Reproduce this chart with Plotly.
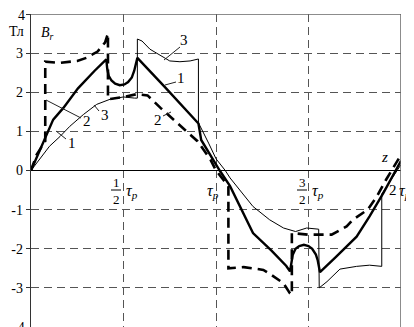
import plotly.graph_objects as go

# ---- data ----
curve1_z = [0, 0.049, 0.085, 0.12, 0.175, 0.21, 0.254, 0.344, 0.407, 0.412, 0.42, 0.435, 0.455, 0.48, 0.505,
            0.525, 0.545, 0.558, 0.568, 0.575, 0.724, 0.905, 0.92, 0.977, 1.02, 1.076, 1.157, 1.2, 1.3, 1.38,
            1.40, 1.405, 1.415, 1.43, 1.45, 1.475, 1.5, 1.52, 1.54, 1.55, 1.557, 1.562, 1.65, 1.76, 1.83,
            1.905, 2.0]
curve1_b = [0, 0.54, 0.96, 1.3, 1.6, 1.82, 2.1, 2.55, 2.84, 2.6, 2.42, 2.3, 2.22, 2.18, 2.2,
            2.26, 2.38, 2.55, 2.72, 2.88, 2.13, 1.2, 0.78, 0.32, 0.0, -0.4, -1.17, -1.6, -2.05, -2.44,
            -2.58, -2.4, -2.15, -2.0, -1.93, -1.9, -1.93, -2.0, -2.15, -2.3, -2.45, -2.6, -2.2, -1.69, -1.17,
            -0.57, 0.25]

curve2_z = [0, 0.03, 0.077, 0.077, 0.15, 0.25, 0.3, 0.36, 0.4, 0.416, 0.416, 0.5, 0.57, 0.63, 0.7, 0.75,
            0.84, 0.9, 0.97, 1.0, 1.067, 1.067, 1.15, 1.256, 1.30, 1.364, 1.40, 1.41, 1.41, 1.5, 1.59,
            1.625, 1.706, 1.74, 1.82, 1.87, 1.92, 2.0]
curve2_b = [0, 0.4, 0.75, 2.78, 2.75, 2.8, 2.88, 3.04, 3.27, 3.5, 1.82, 1.88, 1.95, 1.92, 1.6, 1.39,
            1.0, 0.75, 0.28, 0.0, -0.4, -2.5, -2.47, -2.54, -2.67, -2.88, -3.14, -3.18, -1.6, -1.64, -1.64,
            -1.64, -1.43, -1.26, -1.0, -0.66, -0.23, 0.4]

curve3_z = [0, 0.05, 0.1, 0.157, 0.21, 0.283, 0.355, 0.427, 0.5, 0.56, 0.575, 0.575, 0.6, 0.643, 0.715,
            0.75, 0.805, 0.86, 0.905, 0.905, 0.96, 1.0, 1.05, 1.076, 1.2, 1.29, 1.365, 1.43, 1.49, 1.555,
            1.558, 1.6, 1.67, 1.76, 1.83, 1.896, 1.896, 1.95, 2.0]
curve3_b = [0, 0.3, 0.62, 0.87, 1.13, 1.43, 1.69, 1.82, 1.88, 1.85, 1.85, 3.36, 3.31, 3.1, 2.89,
            2.8, 2.78, 2.8, 2.85, 1.22, 0.7, 0.3, 0.0, -0.19, -0.92, -1.26, -1.47, -1.56, -1.47, -1.5,
            -3.0, -2.84, -2.52, -2.45, -2.42, -2.45, -0.6, -0.2, 0.15]

y_ticks = [-4, -3, -2, -1, 0, 1, 2, 3, 4]
y_tick_text = ["", "-3", "-2", "-1", "0", "1", "2", "3", ""]
y_end_labels = ["4", "-4"]

# ---- geometry: the page body has an 8px margin, so the figure sits at (8, 8) ----
OFF = 8
PX0, PY0, PX1, PY1 = 31, 14, 401, 327          # plot area in window pixels
W, H = 414 - OFF, 327 - OFF
L, T = PX0 - OFF, PY0 - OFF
R, B = W - (PX1 - OFF), H - (PY1 - OFF)
PW, PH = PX1 - PX0, PY1 - PY0


def PX(px):
    return (px - PX0) / PW


def PY(py):
    return 1 - (py - PY0) / PH


def X(px):
    return (px - PX0) / PW * 2.0


def Y(py):
    return 4 - (py - PY0) / PH * 8.0


SERIF = "Liberation Serif, Times New Roman, serif"

fig = go.Figure()
fig.add_trace(go.Scatter(x=curve3_z, y=curve3_b, mode="lines",
                         line=dict(color="black", width=1)))
fig.add_trace(go.Scatter(x=curve2_z, y=curve2_b, mode="lines",
                         line=dict(color="black", width=2.6, dash="10px,6px")))
fig.add_trace(go.Scatter(x=curve1_z, y=curve1_b, mode="lines",
                         line=dict(color="black", width=2.4)))

fig.update_layout(
    width=W, height=H, autosize=False, showlegend=False,
    margin=dict(l=L, r=R, t=T, b=B, pad=0, autoexpand=False),
    plot_bgcolor="white", paper_bgcolor="white",
    font=dict(family=SERIF, size=13, color="black"),
    xaxis=dict(range=[0, 2], tickvals=[0.5, 1.0, 1.5], showticklabels=False, ticks="",
               showgrid=True, gridcolor="#555555", gridwidth=1, griddash="8px,5px",
               zeroline=False, showline=False, fixedrange=True, automargin=False),
    yaxis=dict(range=[-4, 4], tickvals=y_ticks, ticktext=y_tick_text, ticks="outside",
               ticklen=4, tickcolor="#333333", automargin=False,
               showgrid=True, gridcolor="#555555", gridwidth=1, griddash="8px,5px",
               zeroline=True, zerolinecolor="black", zerolinewidth=1.2,
               showline=True, linecolor="#333333", linewidth=1.2,
               tickfont=dict(family=SERIF, size=14, color="black"), fixedrange=True),
)

# borders (top and right)
fig.add_shape(type="line", xref="x", yref="y", x0=0, x1=2, y0=4, y1=4,
              line=dict(color="#666666", width=1.5))
fig.add_shape(type="line", xref="x", yref="y", x0=2, x1=2, y0=4, y1=-4,
              line=dict(color="#666666", width=1.5))


def text(px, py, s, size=14, xanchor="center", color="black", yanchor="middle"):
    fig.add_annotation(x=PX(px), y=PY(py), xref="paper", yref="paper", text=s, showarrow=False,
                       font=dict(family=SERIF, size=size, color=color),
                       xanchor=xanchor, yanchor=yanchor, borderpad=0)


# end tick labels of the y axis (top one near the edge, bottom one cut by the edge)
text(26, 15, y_end_labels[0], size=14, xanchor="right")
text(26, 327, y_end_labels[1], size=14, xanchor="right")

# axis captions
text(16, 32, "Тл", size=14)
text(47, 33, "<i>B</i><sub><i>r</i></sub>", size=14)
text(384, 157, "<i>z</i>", size=15)


# x tick labels (fractions of tau_p)
def frac_label(cx, num, tcx):
    text(cx, 182, num, size=13)
    text(cx, 199, "2", size=13)
    fig.add_shape(type="line", xref="paper", yref="paper", x0=PX(cx - 5), x1=PX(cx + 5),
                  y0=PY(190), y1=PY(190), line=dict(color="black", width=1))
    text(tcx, 191, "<i>τ</i><sub><i>p</i></sub>", size=16)


frac_label(116, "1", 132)
frac_label(302, "3", 318)
text(213, 191, "<i>τ</i><sub><i>p</i></sub>", size=16)
text(393, 190, "2", size=15)
text(398, 191, "<i>τ</i><sub><i>p</i></sub>", size=16, xanchor="left")

# curve labels with leader lines
labels = [("1", 72, 143, (66, 139, 56, 131)),
          ("2", 87, 121, (81, 118, 46, 100)),
          ("3", 105, 115, (99, 111, 94, 105)),
          ("3", 184, 40, (180, 47, 164, 60)),
          ("1", 181, 78, (176, 82, 165, 85)),
          ("2", 158, 120, (163, 116, 171, 112))]
for txt, lx, ly, (ax0, ay0, ax1, ay1) in labels:
    text(lx, ly, txt, size=15, color="black")
    fig.add_shape(type="line", xref="x", yref="y", x0=X(ax0), y0=Y(ay0), x1=X(ax1), y1=Y(ay1),
                  line=dict(color="#222222", width=1))

fig.write_html("out.html", config={"displayModeBar": False, "staticPlot": True})
